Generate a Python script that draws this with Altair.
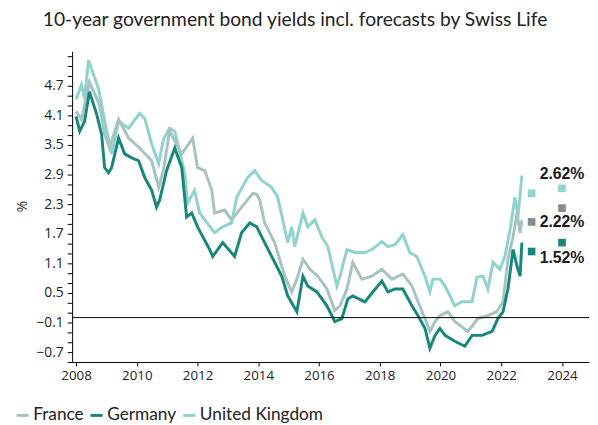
import altair as alt
import pandas as pd

TITLE = "10-year government bond yields incl. forecasts by Swiss Life"
SERIES = ["France", "Germany", "United Kingdom"]
LINE_COLORS = ["#a6c3c1", "#16877a", "#8ed3ce"]
SQUARE_COLORS = ["#8a8a8a", "#16877a", "#8ed3ce"]

de_t = [2008.0, 2008.12, 2008.28, 2008.44, 2008.68, 2008.84, 2008.94, 2009.07, 2009.17, 2009.40,
        2009.60, 2009.83, 2010.06, 2010.26, 2010.49, 2010.65, 2010.75, 2010.98, 2011.25, 2011.48,
        2011.64, 2011.81, 2012.00, 2012.40, 2012.50, 2012.83, 2013.22, 2013.45, 2013.72, 2013.95,
        2014.11, 2014.44, 2014.77, 2014.97, 2015.27, 2015.47, 2015.63, 2015.93, 2016.26, 2016.52,
        2016.75, 2016.95, 2017.11, 2017.51, 2017.77, 2018.07, 2018.27, 2018.50, 2018.76, 2019.06,
        2019.26, 2019.49, 2019.65, 2019.82, 2019.98, 2020.15, 2020.47, 2020.80, 2021.04, 2021.37,
        2021.70, 2021.89, 2022.06, 2022.22, 2022.39, 2022.52, 2022.62, 2022.68]
de_v = [4.08, 3.78, 3.98, 4.58, 4.12, 3.72, 3.04, 2.94, 3.04, 3.64,
        3.32, 3.24, 3.18, 2.84, 2.58, 2.24, 2.38, 2.98, 3.44, 3.04,
        2.04, 2.12, 1.84, 1.38, 1.24, 1.52, 1.24, 1.72, 1.92, 1.84,
        1.64, 1.24, 0.84, 0.44, 0.12, 0.84, 0.64, 0.52, 0.24, -0.08,
        -0.02, 0.38, 0.44, 0.32, 0.52, 0.74, 0.52, 0.58, 0.58, 0.24,
        0.04, -0.22, -0.62, -0.36, -0.22, -0.36, -0.48, -0.58, -0.36, -0.36,
        -0.28, -0.02, 0.12, 0.58, 1.38, 1.04, 0.84, 1.52]

fr_t = [2008.0, 2008.18, 2008.44, 2008.77, 2008.94, 2009.10, 2009.40, 2009.73, 2010.09, 2010.49,
        2010.72, 2010.88, 2011.08, 2011.48, 2011.84, 2012.00, 2012.24, 2012.47, 2012.56, 2012.89,
        2013.12, 2013.45, 2013.82, 2013.95, 2014.05, 2014.21, 2014.54, 2014.87, 2015.10, 2015.27,
        2015.47, 2015.70, 2015.96, 2016.26, 2016.52, 2016.69, 2016.92, 2017.11, 2017.41, 2017.74,
        2018.07, 2018.40, 2018.76, 2019.06, 2019.26, 2019.49, 2019.65, 2019.82, 2019.98, 2020.24,
        2020.47, 2020.90, 2021.23, 2021.56, 2021.85, 2022.06, 2022.22, 2022.39, 2022.52, 2022.62,
        2022.68]
fr_v = [4.18, 4.02, 4.78, 4.32, 3.72, 3.44, 4.02, 3.64, 3.44, 3.18,
        2.64, 3.00, 3.78, 3.32, 3.64, 3.04, 2.98, 2.58, 2.12, 2.18,
        1.98, 2.24, 2.52, 2.50, 2.38, 1.92, 1.52, 0.84, 0.52, 0.78,
        1.18, 0.98, 0.84, 0.58, 0.14, 0.24, 0.58, 1.12, 0.78, 0.84,
        0.98, 0.78, 0.88, 0.64, 0.32, -0.02, -0.28, -0.08, 0.04, 0.12,
        -0.08, -0.28, -0.02, 0.04, 0.12, 0.32, 1.18, 1.64, 2.12, 1.72,
        1.98]

uk_t = [2008.0, 2008.18, 2008.28, 2008.41, 2008.74, 2009.01, 2009.17, 2009.40, 2009.73, 2010.09,
        2010.26, 2010.49, 2010.72, 2010.88, 2011.08, 2011.25, 2011.58, 2011.67, 2011.90, 2012.07,
        2012.56, 2012.83, 2013.12, 2013.29, 2013.65, 2013.88, 2014.11, 2014.44, 2014.64, 2014.97,
        2015.10, 2015.20, 2015.47, 2015.63, 2015.86, 2016.09, 2016.29, 2016.59, 2016.69, 2016.92,
        2017.18, 2017.51, 2017.74, 2018.07, 2018.27, 2018.50, 2018.76, 2018.99, 2019.22, 2019.49,
        2019.65, 2019.75, 2019.98, 2020.15, 2020.47, 2020.70, 2021.04, 2021.20, 2021.40, 2021.56,
        2021.73, 2021.96, 2022.12, 2022.29, 2022.45, 2022.55, 2022.68]
uk_v = [4.42, 4.72, 4.44, 5.22, 4.64, 3.78, 3.32, 3.98, 3.84, 4.14,
        4.04, 3.52, 3.12, 3.62, 3.84, 3.78, 2.92, 2.32, 2.58, 2.12,
        1.72, 1.84, 1.92, 2.44, 2.84, 2.98, 2.78, 2.64, 2.44, 1.52,
        1.84, 1.44, 2.12, 1.84, 1.98, 1.64, 1.44, 0.64, 0.84, 1.38,
        1.32, 1.32, 1.38, 1.54, 1.44, 1.48, 1.68, 1.32, 1.24, 0.84,
        0.52, 0.78, 0.78, 0.64, 0.24, 0.32, 0.32, 0.82, 0.84, 0.58,
        1.12, 0.98, 1.24, 1.78, 2.44, 2.04, 2.88]

fc_t = [2023.0, 2024.0]
fc_fr = [1.94, 2.22]
fc_de = [1.34, 1.52]
fc_uk = [2.52, 2.62]
label_dy = {"France": 14, "Germany": 16, "United Kingdom": -15}

x_ticks = list(range(2008, 2025, 2))
y_minor = [round(-0.9 + 0.2 * i, 1) for i in range(32)]
y_major = [-0.7, -0.1, 0.5, 1.1, 1.7, 2.3, 2.9, 3.5, 4.1, 4.7]

rows = []
for name, ts, vs in [("United Kingdom", uk_t, uk_v), ("France", fr_t, fr_v), ("Germany", de_t, de_v)]:
    for t, v in zip(ts, vs):
        rows.append({"series": name, "t": t, "v": v})
df = pd.DataFrame(rows)

frows = []
for name, vs in [("France", fc_fr), ("Germany", fc_de), ("United Kingdom", fc_uk)]:
    for t, v in zip(fc_t, vs):
        frows.append({"series": name, "t": t, "v": v})
fdf = pd.DataFrame(frows)

TICK_FONT = "Open Sans"
TEXT_FONT = "Lato"

cond = " || ".join(f"abs(datum.value - ({v})) < 0.01" for v in y_major)
label_expr = f"({cond}) ? format(datum.value, '.1f') : ''"

x_enc = alt.X(
    "t:Q",
    scale=alt.Scale(domain=[2007.87, 2024.89], nice=False, zero=False),
    axis=alt.Axis(values=x_ticks, format="d", title=None, grid=False, tickSize=4,
                  tickCount=40,
                  labelFont=TICK_FONT, labelFontSize=13.5, labelColor="#222",
                  domainColor="black", tickColor="black", labelPadding=3,
                  labelOverlap=False),
)
y_enc = alt.Y(
    "v:Q",
    scale=alt.Scale(domain=[-0.9, 5.4], nice=False, zero=False),
    axis=alt.Axis(values=y_minor, tickCount=100, labelExpr=label_expr, title="%", grid=False,
                  tickSize=5,
                  labelFont=TICK_FONT, labelFontSize=14, labelColor="#222",
                  domainColor="black", tickColor="black", labelPadding=4,
                  labelOverlap=False,
                  titleFont=TICK_FONT, titleFontSize=14, titleFontWeight="normal",
                  titleColor="#222", titleX=-50, titleY=157, titleAngle=270,
                  titleBaseline="middle", titleAlign="center"),
)

lines = alt.Chart(df).mark_line(strokeWidth=3).encode(
    x=x_enc,
    y=y_enc,
    color=alt.Color(
        "series:N",
        scale=alt.Scale(domain=SERIES, range=LINE_COLORS),
        legend=alt.Legend(
            title=None, orient="none", legendX=-59, legendY=360, direction="horizontal",
            symbolType="stroke", symbolStrokeWidth=3, symbolSize=150,
            labelFont=TEXT_FONT, labelFontSize=17.5, labelColor="#222",
            columnPadding=0, symbolOffset=0, labelOffset=2,
        ),
    ),
)

zero = alt.Chart(pd.DataFrame({"v": [0.0]})).mark_rule(color="black", strokeWidth=1).encode(
    y=alt.Y("v:Q")
)

squares = alt.Chart(fdf).mark_square(size=60, opacity=1).encode(
    x="t:Q",
    y="v:Q",
    color=alt.Color("series:N", scale=alt.Scale(domain=SERIES, range=SQUARE_COLORS), legend=None),
)

texts = []
for name in SERIES:
    texts.append(
        alt.Chart(fdf).transform_filter(
            (alt.datum.series == name) & (alt.datum.t == fc_t[-1])
        ).transform_calculate(
            lab="format(datum.v, '.2f') + '%'"
        ).mark_text(
            dy=label_dy[name], font="Liberation Sans", fontWeight="bold", fontSize=16,
            color="#1a1a1a", align="center", baseline="middle",
        ).encode(x="t:Q", y="v:Q", text="lab:N")
    )

chart = alt.layer(lines, zero, squares, *texts).resolve_scale(color="independent").properties(
    width=524,
    height=315,
    autosize="none",
    padding={"left": 65, "top": 41, "right": 1, "bottom": 60},
    title=alt.Title(TITLE, font=TEXT_FONT, fontSize=19.5, fontWeight="normal", color="#222",
                    anchor="middle", dx=-36, offset=19),
).configure_view(stroke=None).configure_axis(labelOverlap=False)

chart.save("out.html", embed_options={"renderer": "svg", "actions": False})
